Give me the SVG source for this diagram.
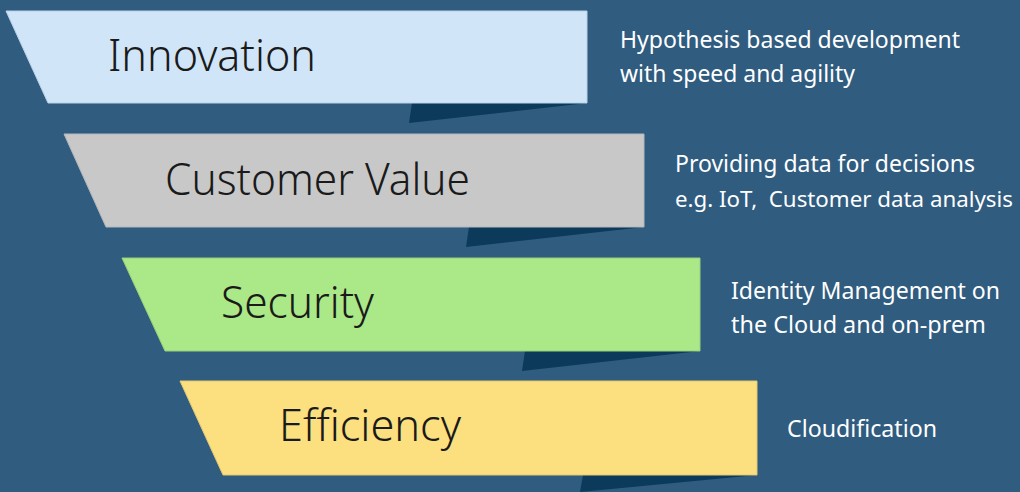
<svg xmlns="http://www.w3.org/2000/svg" width="1020" height="492" viewBox="0 0 1020 492">
<style>
.bg{fill:#2F5C7F}
.shadow{fill:#0C3A5B}
.title{font-family:"Noto Sans","Open Sans","DejaVu Sans",sans-serif;font-size:44px;font-weight:350;fill:#1A1A1A}
.desc{font-family:"Noto Sans","Open Sans","DejaVu Sans",sans-serif;font-size:24px;fill:#FFFFFF;white-space:pre}
.bar{stroke-width:1}
</style>
<rect class="bg" x="0" y="0" width="1020" height="492"/>
<g id="innovation">
<polygon class="shadow" points="412,103 587,103 409,123"/>
<polygon class="bar" points="6,11 587,11 587,103 48,103" fill="#D0E5F7" stroke="#B9D2E8"/>
<text class="title" x="108" y="71" textLength="208" lengthAdjust="spacingAndGlyphs">Innovation</text>
<text class="desc" x="620" y="48" textLength="340" lengthAdjust="spacingAndGlyphs">Hypothesis based development</text>
<text class="desc" x="620" y="82" textLength="235" lengthAdjust="spacingAndGlyphs">with speed and agility</text>
</g>
<g id="customer-value">
<polygon class="shadow" points="469,227 644,227 466,247"/>
<polygon class="bar" points="64,134 644,134 644,227 106,227" fill="#C8C8C8" stroke="#B4B8BC"/>
<text class="title" x="165" y="195" textLength="305" lengthAdjust="spacingAndGlyphs">Customer Value</text>
<text class="desc" x="675" y="172" textLength="300" lengthAdjust="spacingAndGlyphs">Providing data for decisions</text>
<text class="desc" x="675" y="207" style="font-size:22px" textLength="338" lengthAdjust="spacingAndGlyphs">e.g. IoT,  Customer data analysis</text>
</g>
<g id="security">
<polygon class="shadow" points="525,351 700,351 522,371"/>
<polygon class="bar" points="122,258 700,258 700,351 165,351" fill="#ABE888" stroke="#97D07A"/>
<text class="title" x="221" y="318" textLength="153" lengthAdjust="spacingAndGlyphs">Security</text>
<text class="desc" x="731" y="299" textLength="269" lengthAdjust="spacingAndGlyphs">Identity Management on</text>
<text class="desc" x="731" y="333" textLength="255" lengthAdjust="spacingAndGlyphs">the Cloud and on-prem</text>
</g>
<g id="efficiency">
<polygon class="shadow" points="583,475 757,475 580,492"/>
<polygon class="bar" points="180,381 757,381 757,475 223,475" fill="#FCE080" stroke="#E2C874"/>
<text class="title" x="279" y="441" textLength="182" lengthAdjust="spacingAndGlyphs">Efficiency</text>
<text class="desc" x="787" y="437" textLength="150" lengthAdjust="spacingAndGlyphs">Cloudification</text>
</g>
<g id="connectors"/>
</svg>
